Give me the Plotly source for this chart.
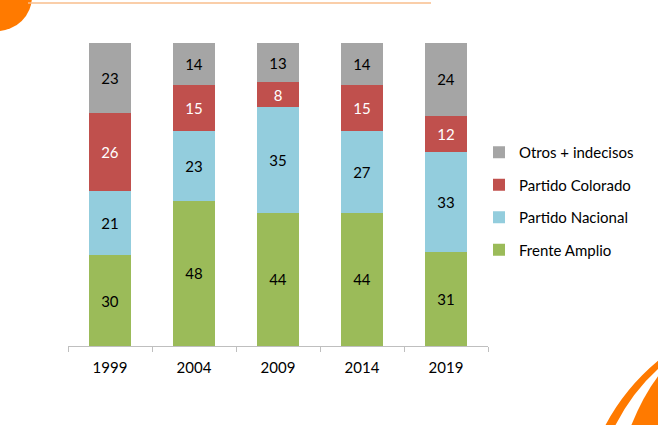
import plotly.graph_objects as go

years = ["1999", "2004", "2009", "2014", "2019"]
frente_amplio = [30, 48, 44, 44, 31]
partido_nacional = [21, 23, 35, 27, 33]
partido_colorado = [26, 15, 8, 15, 12]
otros = [23, 14, 13, 14, 24]

W, H = 658, 425
L, R, T, B = 68, 488, 43, 346

def px(x):
    return (x - L) / (R - L)

def py(y):
    return (B - y) / (B - T)

series = [
    ("Frente Amplio", frente_amplio, "#9BBB59", "#000000", 4),
    ("Partido Nacional", partido_nacional, "#93CDDD", "#000000", 3),
    ("Partido Colorado", partido_colorado, "#C0504D", "#FFFFFF", 2),
    ("Otros + indecisos", otros, "#A5A5A5", "#000000", 1),
]

fig = go.Figure()
for name, vals, color, tcol, rank in series:
    fig.add_trace(go.Bar(
        x=years, y=vals, name=name, legendgroup=name, legendrank=rank,
        marker=dict(color=color, line=dict(width=0)),
        text=[str(v) for v in vals], textposition="inside",
        insidetextanchor="middle",
        textfont=dict(color=tcol, size=15, family="Lato"),
        hoverinfo="skip",
    ))

def pathstr(points_px, close=True):
    s = ""
    for cmd, pts in points_px:
        s += cmd + " " + " ".join(f"{px(x):.4f},{py(y):.4f}" for x, y in pts) + " "
    if close:
        s += "Z"
    return s

shapes = [
    dict(type="circle", xref="paper", yref="paper",
         x0=px(-38), x1=px(32), y0=py(-38), y1=py(31),
         fillcolor="#FF7A00", line=dict(width=0), layer="above"),
    dict(type="line", xref="paper", yref="paper",
         x0=px(28), x1=px(431), y0=py(3), y1=py(3),
         line=dict(color="#F9BE8C", width=1.5)),
    dict(type="path", xref="paper", yref="paper",
         path=pathstr([("M", [(605, 426)]), ("Q", [(625, 388), (659, 360)]),
                       ("L", [(659, 368)]), ("Q", [(632, 392), (615, 426)])]),
         fillcolor="#FF7A00", line=dict(width=0)),
    dict(type="path", xref="paper", yref="paper",
         path=pathstr([("M", [(631, 426)]), ("Q", [(643, 396), (659, 375)]),
                       ("L", [(659, 426)])]),
         fillcolor="#FF7A00", line=dict(width=0)),
]

fig.update_layout(
    width=W, height=H,
    margin=dict(l=L, r=W - R, t=T, b=H - B),
    barmode="stack", bargap=0.5,
    plot_bgcolor="white", paper_bgcolor="white",
    font=dict(family="Lato", size=15, color="#000000"),
    showlegend=True,
    legend=dict(x=px(479), y=py(136), xanchor="left", yanchor="top",
                traceorder="grouped", tracegroupgap=10,
                font=dict(size=15, color="#000000"),
                itemwidth=30, bgcolor="rgba(0,0,0,0)"),
    xaxis=dict(showline=True, linecolor="#BFBFBF", linewidth=1,
               ticks="outside", tickson="boundaries", ticklen=5,
               tickcolor="#BFBFBF", showgrid=False, ticklabelstandoff=8,
               tickfont=dict(size=15, color="#000000")),
    yaxis=dict(range=[0, 100], visible=False, showgrid=False),
    shapes=shapes,
)

fig.write_html("out.html", config={"displayModeBar": False},
               post_script="document.body.style.margin='0';")
